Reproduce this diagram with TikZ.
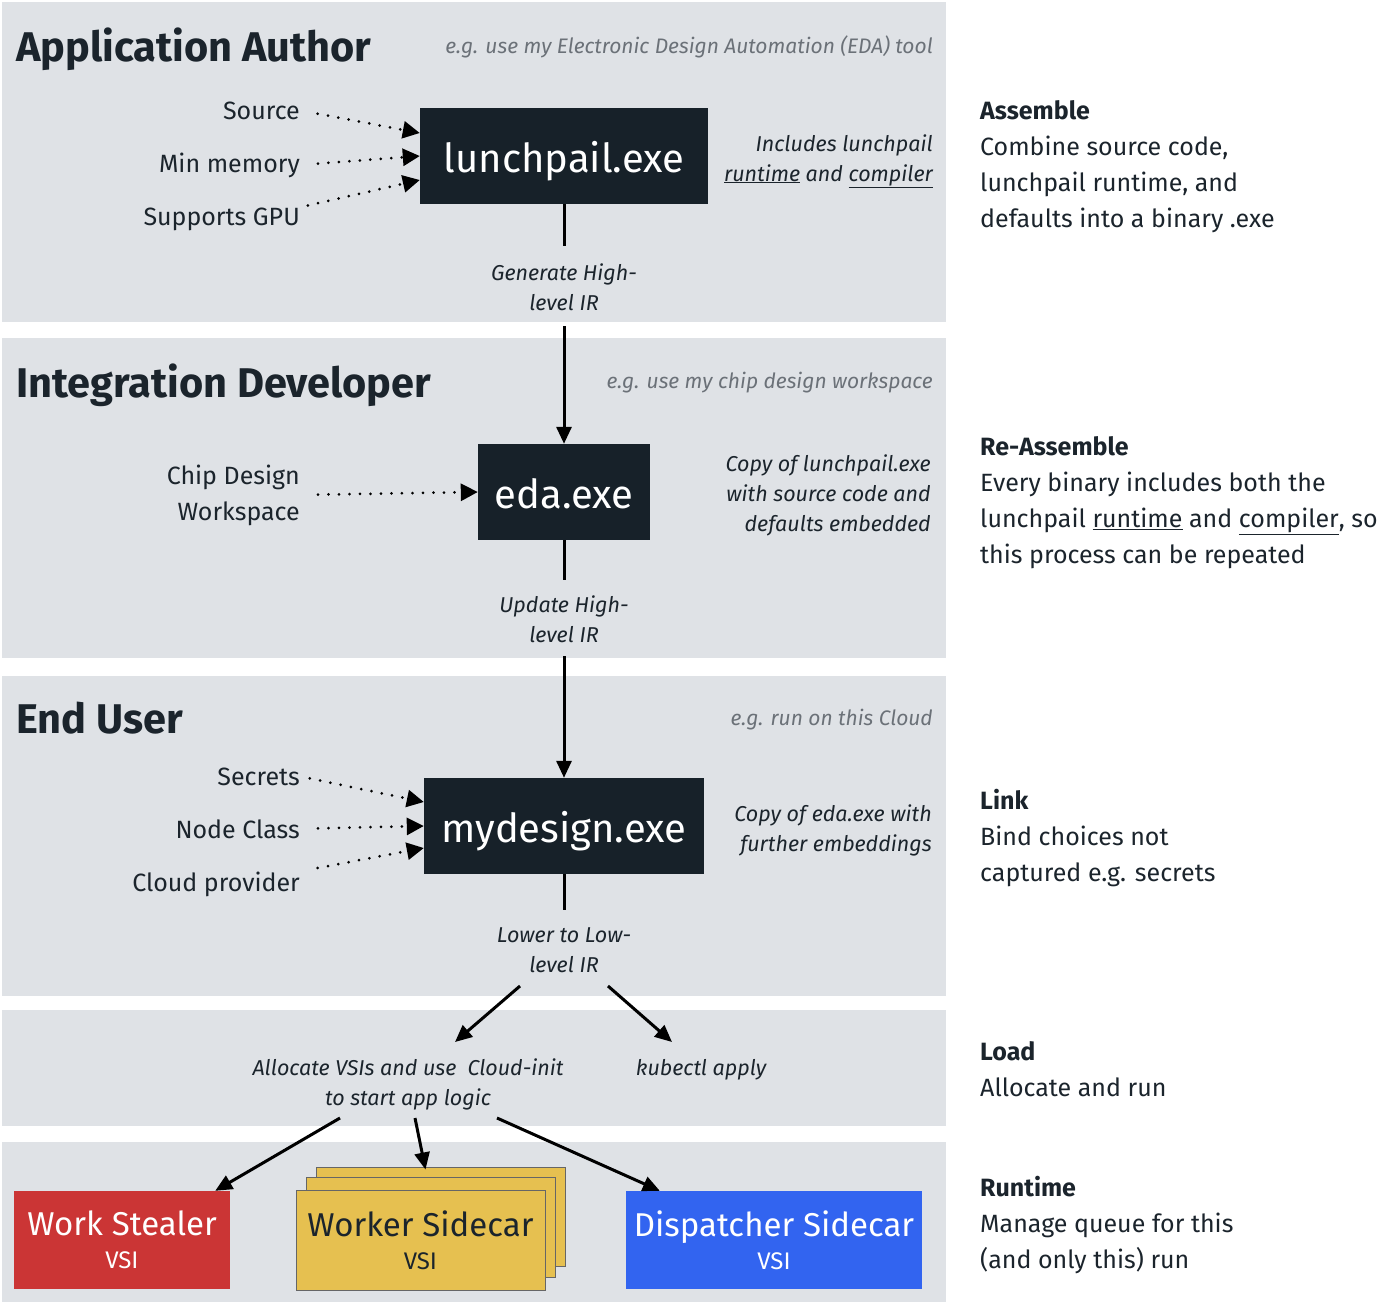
\documentclass[tikz,border=0pt]{standalone}
\usepackage{fontspec}
\setmainfont{Fira Sans}
\usetikzlibrary{arrows.meta}
\definecolor{panel}{HTML}{DFE2E6}
\definecolor{dark}{HTML}{172129}
\definecolor{ink}{HTML}{1B242C}
\definecolor{hintgray}{HTML}{6B7178}
\definecolor{vsired}{HTML}{CB3535}
\definecolor{vsiyellow}{HTML}{E6C050}
\definecolor{vsiblue}{HTML}{3264F0}
\definecolor{edgegray}{HTML}{666666}
\begin{document}
\begin{tikzpicture}[x=1pt,y=-1pt,
  panelbg/.style={fill=panel,draw=none},
  exebox/.style={fill=dark,text=white,inner sep=0,text height=40pt,text depth=8pt,font=\fontsize{40}{46}\selectfont},
  title/.style={anchor=base west,inner sep=0,font=\bfseries\fontsize{41.5}{48}\selectfont,text=ink},
  hint/.style={anchor=base east,inner sep=0,font=\itshape\fontsize{21}{26}\selectfont,text=hintgray},
  inlab/.style={anchor=base east,inner sep=0,align=right,font=\fontsize{25}{36}\selectfont,text=ink},
  note/.style={anchor=base east,inner sep=0,align=right,font=\itshape\fontsize{21.5}{30}\selectfont,text=ink},
  midlab/.style={anchor=base,inner sep=0,align=center,font=\itshape\fontsize{21.5}{30}\selectfont,text=ink},
  side/.style={anchor=base west,inner sep=0,align=left,font=\fontsize{25}{36}\selectfont,text=ink},
  vsibox/.style={inner sep=0,align=center,font=\fontsize{33}{40}\selectfont},
  flow/.style={line width=3pt,-{Triangle[length=17pt,width=15pt]}},
  dotarrow/.style={line width=3pt,line cap=round,dash pattern=on 0pt off 10.5pt,-{Triangle[length=17pt,width=17pt]}}
]
\useasboundingbox (0,0) rectangle (1400,1304);
% panels
\fill[panelbg] (2,2) rectangle (946,322);
\fill[panelbg] (2,338) rectangle (946,658);
\fill[panelbg] (2,676) rectangle (946,996);
\fill[panelbg] (2,1010) rectangle (946,1126);
\fill[panelbg] (2,1142) rectangle (946,1302);

% --- Application Author
\node[title] (t1) at (16,61) {Application Author};
\node[hint] (h1) at (933,53) {e.g. use my Electronic Design Automation (EDA) tool};
\node[exebox,minimum width=288pt,minimum height=96pt] (box1) at (564,156) {lunchpail.exe};
\node[inlab] (src) at (300,119) {Source};
\node[inlab] (mem) at (300,172) {Min memory};
\node[inlab] (gpu) at (300,225) {Supports GPU};
\node[note] (n1) at (933,181) {Includes lunchpail\\\underline{runtime} and \underline{compiler}};
\draw[dotarrow,shorten <=18pt] (src.east) -- ([yshift=23pt]box1.west);
\draw[dotarrow,shorten <=18pt] (mem.east) -- (box1.west);
\draw[dotarrow,shorten <=8pt] (gpu.north east) -- ([yshift=-24pt]box1.west);
\node[midlab] (g1) at (564,310) {Generate High-\\level IR};
\coordinate (l1end) at (564,246);
\draw[line width=3pt] (box1.south) -- (l1end);

% --- Integration Developer
\node[title] (t2) at (16,397) {Integration Developer};
\node[hint] (h2) at (933,388) {e.g. use my chip design workspace};
\node[exebox,minimum width=172pt,minimum height=96pt] (box2) at (564,492) {eda.exe};
\node[inlab] (chip) at (300,520) {Chip Design\\Workspace};
\node[note] (n2) at (931,531) {Copy of lunchpail.exe\\with source code and\\defaults embedded};
\coordinate (a1start) at (564,326);
\draw[flow] (a1start) -- (box2.north);
\draw[dotarrow,shorten <=18pt] (chip.east) -- (box2.west);
\node[midlab] (g2) at (564,642) {Update High-\\level IR};
\coordinate (l2end) at (564,580);
\draw[line width=3pt] (box2.south) -- (l2end);

% --- End User
\node[title] (t3) at (16,733) {End User};
\node[hint] (h3) at (933,725) {e.g. run on this Cloud};
\node[exebox,minimum width=280pt,minimum height=96pt] (box3) at (564,826) {mydesign.exe};
\node[inlab] (sec) at (300,785) {Secrets};
\node[inlab] (ncl) at (300,838) {Node Class};
\node[inlab] (cld) at (300,891) {Cloud provider};
\node[note] (n3) at (932,851) {Copy of eda.exe with\\further embeddings};
\coordinate (a2start) at (564,656);
\draw[flow] (a2start) -- (box3.north);
\draw[dotarrow,shorten <=10pt] (sec.east) -- ([yshift=24pt]box3.west);
\draw[dotarrow,shorten <=18pt] (ncl.east) -- (box3.west);
\draw[dotarrow,shorten <=18pt] (cld.north east) -- ([yshift=-22pt]box3.west);
\node[midlab] (g3) at (564,972) {Lower to Low-\\level IR};
\coordinate (l3end) at (564,910);
\draw[line width=3pt] (box3.south) -- (l3end);

% --- Load
\node[midlab] (alloc) at (408,1105) {Allocate VSIs and use\ \ Cloud-init\\to start app logic};
\node[midlab] (kub) at (701,1075) {kubectl apply};
\coordinate (s1) at (520,986);
\coordinate (e1) at (455,1042);
\coordinate (s2) at (608,986);
\coordinate (e2) at (672,1042);
\draw[flow] (s1) -- (e1);
\draw[flow] (s2) -- (e2);

% --- Runtime boxes
\node[vsibox,fill=vsired,text=white,minimum width=216pt,minimum height=98pt] (ws) at (122,1240) {Work Stealer\\[-7pt]{\fontsize{24}{28}\selectfont VSI}};
\node[fill=vsiyellow,draw=edgegray,line width=1pt,minimum width=249pt,minimum height=99pt,inner sep=0] (wk3) at (440.5,1216.5) {};
\node[fill=vsiyellow,draw=edgegray,line width=1pt,minimum width=249pt,minimum height=100pt,inner sep=0] (wk2) at (430.5,1227) {};
\node[vsibox,fill=vsiyellow,draw=edgegray,line width=1pt,text=ink,minimum width=249pt,minimum height=100pt] (wk) at (420.5,1240) {Worker Sidecar\\[-7pt]{\fontsize{24}{28}\selectfont VSI}};
\node[vsibox,fill=vsiblue,text=white,minimum width=296pt,minimum height=98pt] (ds) at (774,1240) {Dispatcher Sidecar\\[-7pt]{\fontsize{24}{28}\selectfont VSI}};
\coordinate (s3) at (340,1118);
\coordinate (s4) at (415,1118);
\coordinate (s5) at (497,1118);
\draw[flow] (s3) -- ([xshift=-15pt]ws.north east);
\draw[flow] (s4) -- ([xshift=-15pt,yshift=-3pt]wk3.north);
\draw[flow] (s5) -- ([xshift=34pt]ds.north west);

% --- right column
\node[side] (r1) at (980,227) {{\bfseries Assemble}\\Combine source code,\\lunchpail runtime, and\\defaults into a binary .exe};
\node[side] (r2) at (980,563) {{\bfseries Re-Assemble}\\Every binary includes both the\\lunchpail \underline{runtime} and \underline{compiler}, so\\this process can be repeated};
\node[side] (r3) at (980,881) {{\bfseries Link}\\Bind choices not\\captured e.g. secrets};
\node[side] (r4) at (980,1096) {{\bfseries Load}\\Allocate and run};
\node[side] (r5) at (980,1268) {{\bfseries Runtime}\\Manage queue for this\\(and only this) run};
\end{tikzpicture}
\end{document}
